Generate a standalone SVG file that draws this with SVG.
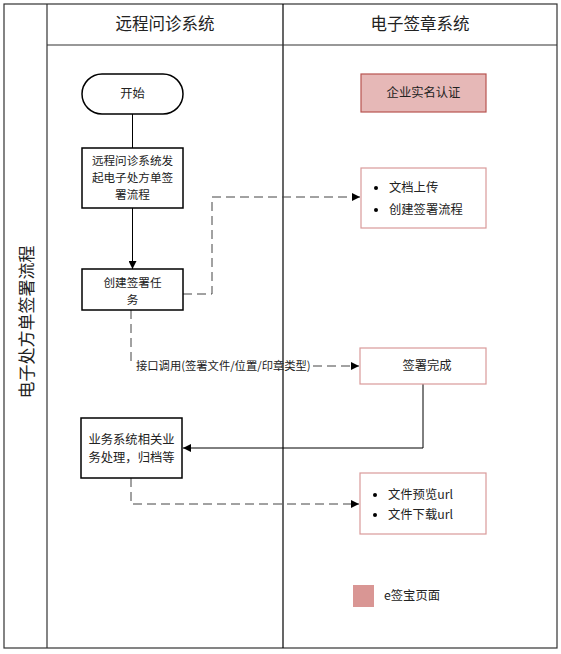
<svg xmlns="http://www.w3.org/2000/svg" width="561" height="654" viewBox="0 0 561 654">
<defs>
<style>
text{font-family:"Noto Sans CJK SC","Liberation Sans",sans-serif;fill:#222}
.t{font-size:12.3px}
.m{font-size:11.6px}
.h{font-size:16.5px}
.box{fill:#fff;stroke:#000;stroke-width:1.5}
.pbox{fill:#fff;stroke:#d99a9a;stroke-width:1.2}
.solid{fill:none;stroke:#000;stroke-width:1}
.dash{fill:none;stroke:#444;stroke-width:1;stroke-dasharray:9 5}
</style>
<marker id="ah" viewBox="0 0 10 10" refX="10" refY="5" markerWidth="10" markerHeight="8" markerUnits="userSpaceOnUse" orient="auto"><path d="M0,0 L10,5 L0,10 z" fill="#000"/></marker>
</defs>
<rect width="561" height="654" fill="#fff"/>
<g id="frame">
<rect x="4" y="4" width="553" height="644" fill="none" stroke="#333" stroke-width="1.2"/>
<line x1="47" y1="4" x2="47" y2="648" stroke="#333" stroke-width="1.2"/>
<line x1="283" y1="4" x2="283" y2="648" stroke="#000" stroke-width="1.2"/>
<line x1="47" y1="45" x2="557" y2="45" stroke="#333" stroke-width="1.2"/>
<text class="h" x="165" y="30" text-anchor="middle">远程问诊系统</text>
<text class="h" x="420" y="30" text-anchor="middle">电子签章系统</text>
<text x="25" y="322" font-size="17" text-anchor="middle" dominant-baseline="central" transform="rotate(-90 25 322)">电子处方单签署流程</text>
</g>
<g id="connectors">
<line class="solid" x1="132.5" y1="114" x2="132.5" y2="148"/>
<line class="solid" x1="132.5" y1="208" x2="132.5" y2="269" marker-end="url(#ah)"/>
<polyline class="dash" points="183,294 212,294 212,197 360,197" marker-end="url(#ah)"/>
<polyline class="dash" points="131,310 131,365"/>
<line class="dash" x1="313" y1="366" x2="359" y2="366" marker-end="url(#ah)"/>
<text x="136" y="370" font-size="11.3">接口调用(签署文件/位置/印章类型)</text>
<polyline class="solid" points="423,384 423,448 183,448" marker-end="url(#ah)"/>
<polyline class="dash" points="131,478 131,504 359,504" marker-end="url(#ah)"/>
</g>
<g id="start">
<rect x="82" y="74" width="101" height="40" rx="20" class="box" stroke-width="1.2"/>
<text class="t" x="132.5" y="98" text-anchor="middle">开始</text>
</g>
<g id="initiate">
<rect x="82" y="148" width="101" height="60" class="box"/>
<text class="m" x="132.5" y="165" text-anchor="middle">远程问诊系统发</text>
<text class="m" x="132.5" y="182" text-anchor="middle">起电子处方单签</text>
<text class="m" x="132.5" y="199" text-anchor="middle">署流程</text>
</g>
<g id="create">
<rect x="82" y="269" width="101" height="41" class="box"/>
<text class="m" x="132.5" y="287" text-anchor="middle">创建签署任</text>
<text class="m" x="132.5" y="304" text-anchor="middle">务</text>
</g>
<g id="business">
<rect x="81" y="418" width="101" height="60" class="box"/>
<text class="t" x="131.5" y="444" text-anchor="middle">业务系统相关业</text>
<text class="t" x="131.5" y="462" text-anchor="middle">务处理，归档等</text>
</g>
<g id="auth">
<rect x="361" y="74" width="125" height="38" fill="#e6b8b7" stroke="#b85450" stroke-width="1.2"/>
<text class="t" x="423.5" y="97" text-anchor="middle">企业实名认证</text>
</g>
<g id="upload">
<rect x="361" y="168" width="125" height="60" class="pbox"/>
<circle cx="376" cy="188" r="2" fill="#000"/>
<text class="t" x="389" y="192">文档上传</text>
<circle cx="376" cy="210" r="2" fill="#000"/>
<text class="t" x="389" y="214">创建签署流程</text>
</g>
<g id="signed">
<rect x="360" y="348" width="126" height="36" class="pbox"/>
<text class="t" x="427" y="370" text-anchor="middle">签署完成</text>
</g>
<g id="urls">
<rect x="360" y="473" width="126" height="61" class="pbox"/>
<circle cx="375" cy="495" r="2" fill="#000"/>
<text class="t" x="388" y="499">文件预览url</text>
<circle cx="375" cy="515" r="2" fill="#000"/>
<text class="t" x="388" y="519">文件下载url</text>
</g>
<g id="legend">
<rect x="353" y="585" width="21" height="22" fill="#d99694"/>
<text class="t" x="384" y="600">e签宝页面</text>
</g>
</svg>
